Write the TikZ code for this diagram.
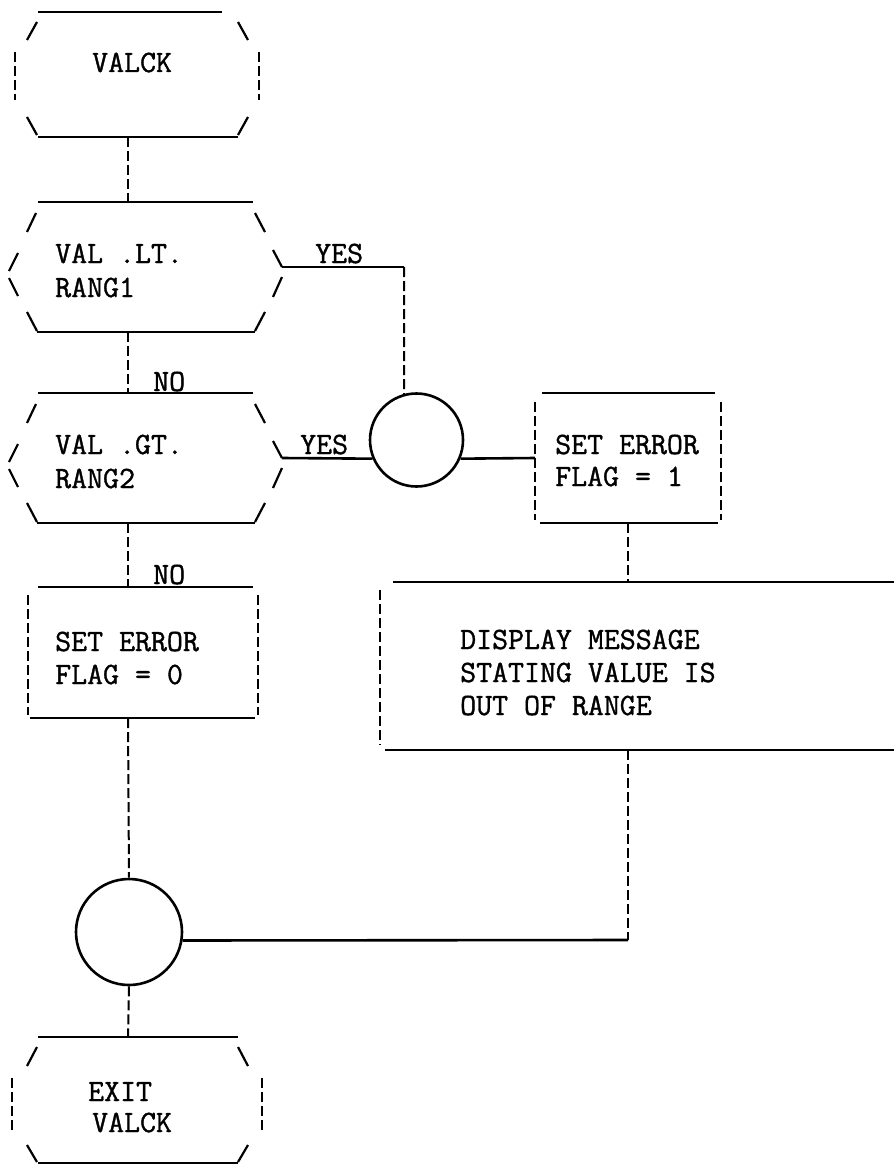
\documentclass[tikz,border=0pt]{standalone}
\usepackage{fontspec}
\newfontfamily\twfam{Latin Modern Mono}[FakeBold=1.2]
\newcommand\twfont{\fontsize{31}{33}\selectfont\twfam}
\tikzset{
  hl/.style={line width=2.6pt},
  sl/.style={line width=2.2pt},
  vd/.style={line width=2pt, dash pattern=on 10pt off 4pt},
  txt/.style={font=\twfont, inner sep=0pt, anchor=base west},
  joint/.style={circle, draw, line width=2.6pt, inner sep=0pt},
}
\begin{document}
\begin{tikzpicture}[x=1pt,y=-1pt]
\path[use as bounding box] (0,0) rectangle (894,1166);

% ---------- start terminal ----------
\draw[hl] (38,12) -- (222,12);
\draw[sl] (27,40) -- (37,22);
\draw[sl] (238,22) -- (248,40);
\draw[vd] (15,52) -- (15,100);
\draw[vd] (259,52) -- (259,100);
\draw[sl] (27,117) -- (37,135);
\draw[sl] (248,117) -- (238,135);
\draw[hl] (38,137) -- (238,137);
\node[txt] (tstart) at (92,72) {VALCK};

% ---------- decision 1 ----------
\draw[hl] (38,202) -- (253,202);
\draw[sl] (27,232) -- (36,213);
\draw[sl] (9,271) -- (18,253);
\draw[sl] (9,278) -- (18,296);
\draw[sl] (27,312) -- (37,331);
\draw[hl] (37,332) -- (255,332);
\draw[sl] (255,213) -- (265,232);
\draw[sl] (273,250) -- (282,267);
\draw[sl] (282,277) -- (273,297);
\draw[sl] (265,312) -- (255,331);
\node[txt] (d1a) at (55,263) {VAL .LT.};
\node[txt] (d1b) at (55,297) {RANG1};

% ---------- decision 2 ----------
\draw[hl] (38,393) -- (253,393);
\draw[sl] (27,423) -- (36,404);
\draw[sl] (9,462) -- (18,444);
\draw[sl] (9,469) -- (18,487);
\draw[sl] (27,503) -- (37,522);
\draw[hl] (37,523) -- (255,523);
\draw[sl] (255,404) -- (265,423);
\draw[sl] (273,441) -- (282,458);
\draw[sl] (282,468) -- (273,488);
\draw[sl] (265,503) -- (255,522);
\node[txt] (d2a) at (55,454) {VAL .GT.};
\node[txt] (d2b) at (55,488) {RANG2};

% ---------- process box FLAG = 0 ----------
\draw[hl] (38,587) -- (253,587);
\draw[vd] (28,595) -- (28,715);
\draw[vd] (258,595) -- (258,715);
\draw[hl] (30,718) -- (255,718);
\node[txt] (p0a) at (55,651) {SET ERROR};
\node[txt] (p0b) at (55,684) {FLAG = 0};

% ---------- process box FLAG = 1 ----------
\draw[hl] (542,393) -- (715,393);
\draw[vd] (535,402) -- (535,520);
\draw[vd] (721,402) -- (721,520);
\draw[hl] (540,523) -- (718,523);
\node[txt] (p1a) at (555,454) {SET ERROR};
\node[txt] (p1b) at (555,486) {FLAG = 1};

% ---------- display box ----------
\draw[hl] (393,582) -- (894,582);
\draw[vd] (380,590) -- (380,745);
\draw[hl] (385,750) -- (894,750);
\node[txt] (m1) at (460,649) {DISPLAY MESSAGE};
\node[txt] (m2) at (460,682) {STATING VALUE IS};
\node[txt] (m3) at (460,715) {OUT OF RANGE};

% ---------- exit terminal ----------
\draw[hl] (38,1037) -- (238,1037);
\draw[sl] (27,1066) -- (37,1047);
\draw[sl] (238,1047) -- (248,1066);
\draw[vd] (12,1078) -- (12,1132);
\draw[vd] (262,1078) -- (262,1132);
\draw[sl] (27,1145) -- (37,1162);
\draw[sl] (248,1145) -- (238,1162);
\draw[hl] (38,1163) -- (238,1163);
\node[txt] (e1) at (88,1101) {EXIT};
\node[txt] (e2) at (92,1132) {VALCK};

% ---------- connector joints ----------
\node[joint, minimum size=93pt] (c1) at (416.5,440) {};
\node[joint, minimum size=106pt] (c2) at (129,932) {};

% ---------- named connection points ----------
\coordinate (s-out) at (128,137);
\coordinate (d1-in) at (128,202);
\coordinate (d1-out) at (128,332);
\coordinate (d1-yes) at (282,267);
\coordinate (yes1-corner) at (404,267);
\coordinate (d2-in) at (128,393);
\coordinate (d2-out) at (128,523);
\coordinate (d2-yes) at (282,458);
\coordinate (p0-in) at (128,587);
\coordinate (p0-out) at (128,718);
\coordinate (p1-in) at (535,458);
\coordinate (p1-out) at (628,523);
\coordinate (m-in) at (628,582);
\coordinate (m-out) at (628,750);
\coordinate (m-corner) at (628,940);
\coordinate (e-in) at (128,1037);

% ---------- connectors ----------
\draw[vd] (s-out) -- (d1-in);
\draw[vd] (d1-out) -- (d2-in);
\node[txt] (no1) at (153,391) {NO};
\draw[hl] (d1-yes) -- (yes1-corner);
\node[txt] (yes1) at (315,263) {YES};
\draw[vd] (yes1-corner) -- (c1.105);
\draw[hl] (d2-yes) -- (c1.203);
\node[txt] (yes2) at (300,454) {YES};
\draw[vd] (d2-out) -- (p0-in);
\node[txt] (no2) at (153,584) {NO};
\draw[hl] (c1.-23) -- (p1-in);
\draw[vd] (p1-out) -- (m-in);
\draw[vd] (p0-out) -- (c2.north);
\draw[vd] (m-out) -- (m-corner);
\draw[hl] (m-corner) -- (c2.-9);
\draw[vd] (c2.south) -- (e-in);
\end{tikzpicture}
\end{document}
